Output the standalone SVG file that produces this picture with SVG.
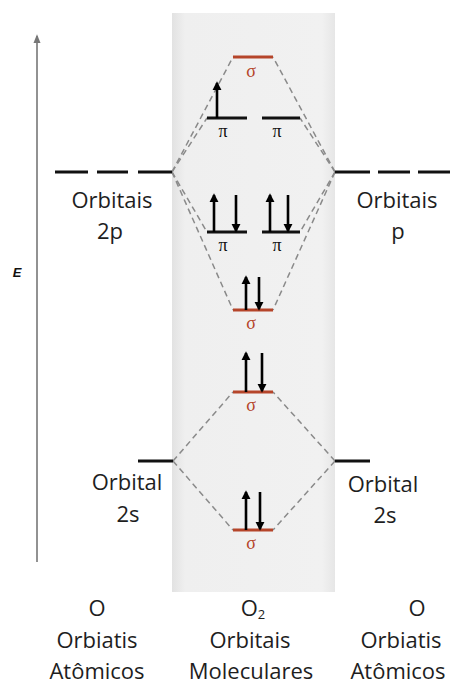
<svg xmlns="http://www.w3.org/2000/svg" width="450" height="688" viewBox="0 0 450 688">
  <defs>
    <linearGradient id="panel" x1="0" y1="0" x2="1" y2="0">
      <stop offset="0" stop-color="#e2e2e2"/>
      <stop offset="0.08" stop-color="#efefef"/>
      <stop offset="0.92" stop-color="#f1f1f1"/>
      <stop offset="1" stop-color="#e6e6e6"/>
    </linearGradient>
    <marker id="head" viewBox="0 0 10 10" refX="8" refY="5" markerWidth="3.6" markerHeight="3.6" orient="auto" markerUnits="strokeWidth">
      <path d="M0,0 L10,5 L0,10 Z" fill="#000"/>
    </marker>
    <marker id="axisHead" viewBox="0 0 10 10" refX="8" refY="5" markerWidth="5.5" markerHeight="5.5" orient="auto" markerUnits="strokeWidth">
      <path d="M0,1 L10,5 L0,9 Z" fill="#777"/>
    </marker>
  </defs>
  <style>
    .lbl { font-family: "Open Sans", "Noto Sans", sans-serif; font-size: 22px; fill: #1e1e1e; text-anchor: middle; }
    .sym { font-family: "Liberation Serif", "DejaVu Serif", serif; font-size: 18px; text-anchor: middle; }
    .sig { fill: #b5452a; }
    .pi { fill: #111; }
    .lvl { stroke: #111; stroke-width: 3; }
    .mo-s { stroke: #b5452a; stroke-width: 3; }
    .cor { stroke: #8a8a8a; stroke-width: 1.5; stroke-dasharray: 6 4; fill: none; }
    .e { stroke: #000; stroke-width: 2.6; marker-end: url(#head); }
  </style>

  <!-- molecular orbital panel -->
  <rect x="172" y="13" width="163" height="579" fill="url(#panel)"/>

  <!-- energy axis -->
  <g id="axis">
    <line x1="37" y1="562" x2="37" y2="36" stroke="#777" stroke-width="1.6" marker-end="url(#axisHead)"/>
    <text x="17" y="277" font-family="Liberation Sans, Arial, sans-serif" font-size="13" font-weight="bold" font-style="italic" text-anchor="middle" fill="#111">E</text>
  </g>

  <!-- correlation lines -->
  <g id="connectors">
    <line class="cor" x1="172" y1="172" x2="233" y2="57"/>
    <line class="cor" x1="172" y1="172" x2="207" y2="118"/>
    <line class="cor" x1="172" y1="172" x2="207" y2="232"/>
    <line class="cor" x1="172" y1="172" x2="233" y2="310"/>
    <line class="cor" x1="335" y1="172" x2="273" y2="57"/>
    <line class="cor" x1="335" y1="172" x2="300" y2="118"/>
    <line class="cor" x1="335" y1="172" x2="300" y2="232"/>
    <line class="cor" x1="335" y1="172" x2="273" y2="310"/>
    <line class="cor" x1="173" y1="461" x2="233" y2="392"/>
    <line class="cor" x1="173" y1="461" x2="233" y2="530"/>
    <line class="cor" x1="335" y1="461" x2="273" y2="392"/>
    <line class="cor" x1="335" y1="461" x2="273" y2="530"/>
  </g>

  <!-- left atom: 2p -->
  <g id="left-2p">
    <line class="lvl" x1="55" y1="172" x2="88" y2="172"/>
    <line class="lvl" x1="97" y1="172" x2="128" y2="172"/>
    <line class="lvl" x1="138" y1="172" x2="172" y2="172"/>
    <text class="lbl" x="112" y="208">Orbitais</text>
    <text class="lbl" x="110" y="239">2p</text>
  </g>

  <!-- right atom: p -->
  <g id="right-2p">
    <line class="lvl" x1="335" y1="172" x2="370" y2="172"/>
    <line class="lvl" x1="378" y1="172" x2="410" y2="172"/>
    <line class="lvl" x1="418" y1="172" x2="450" y2="172"/>
    <text class="lbl" x="397" y="208">Orbitais</text>
    <text class="lbl" x="398" y="239">p</text>
  </g>

  <!-- left atom: 2s -->
  <g id="left-2s">
    <line class="lvl" x1="138" y1="461" x2="173" y2="461"/>
    <text class="lbl" x="127" y="490">Orbital</text>
    <text class="lbl" x="128" y="522">2s</text>
  </g>

  <!-- right atom: 2s -->
  <g id="right-2s">
    <line class="lvl" x1="335" y1="461" x2="370" y2="461"/>
    <text class="lbl" x="383" y="492">Orbital</text>
    <text class="lbl" x="385" y="523">2s</text>
  </g>

  <!-- sigma* 2p -->
  <g id="sigma-star-2p">
    <line class="mo-s" x1="233" y1="57" x2="273" y2="57"/>
    <text class="sym sig" x="251" y="77">σ</text>
  </g>

  <!-- pi* 2p -->
  <g id="pi-star-a">
    <line class="lvl" x1="207" y1="118" x2="247" y2="118"/>
    <line class="e" x1="217" y1="118" x2="217" y2="83"/>
    <text class="sym pi" x="223" y="137">π</text>
  </g>
  <g id="pi-star-b">
    <line class="lvl" x1="262" y1="118" x2="300" y2="118"/>
    <text class="sym pi" x="277" y="137">π</text>
  </g>

  <!-- pi 2p -->
  <g id="pi-a">
    <line class="lvl" x1="207" y1="232" x2="247" y2="232"/>
    <line class="e" x1="214" y1="232" x2="214" y2="195"/>
    <line class="e" x1="236" y1="195" x2="236" y2="231"/>
    <text class="sym pi" x="223" y="251">π</text>
  </g>
  <g id="pi-b">
    <line class="lvl" x1="262" y1="232" x2="300" y2="232"/>
    <line class="e" x1="270" y1="232" x2="270" y2="195"/>
    <line class="e" x1="288" y1="195" x2="288" y2="231"/>
    <text class="sym pi" x="277" y="251">π</text>
  </g>

  <!-- sigma 2p -->
  <g id="sigma-2p">
    <line class="mo-s" x1="233" y1="310" x2="273" y2="310"/>
    <line class="e" x1="246" y1="310" x2="246" y2="277"/>
    <line class="e" x1="259" y1="277" x2="259" y2="309"/>
    <text class="sym sig" x="251" y="329">σ</text>
  </g>

  <!-- sigma* 2s -->
  <g id="sigma-star-2s">
    <line class="mo-s" x1="233" y1="392" x2="273" y2="392"/>
    <line class="e" x1="246" y1="392" x2="246" y2="353"/>
    <line class="e" x1="262" y1="353" x2="262" y2="391"/>
    <text class="sym sig" x="251" y="411">σ</text>
  </g>

  <!-- sigma 2s -->
  <g id="sigma-2s">
    <line class="mo-s" x1="233" y1="530" x2="273" y2="530"/>
    <line class="e" x1="246" y1="530" x2="246" y2="492"/>
    <line class="e" x1="260" y1="492" x2="260" y2="529"/>
    <text class="sym sig" x="251" y="549">σ</text>
  </g>

  <!-- column captions -->
  <g id="caption-left">
    <text class="lbl" x="97" y="616">O</text>
    <text class="lbl" x="97" y="648">Orbiatis</text>
    <text class="lbl" x="97" y="679">Atômicos</text>
  </g>
  <g id="caption-middle">
    <text class="lbl" x="253" y="616">O<tspan font-size="13" dy="3">2</tspan></text>
    <text class="lbl" x="250" y="648">Orbitais</text>
    <text class="lbl" x="251" y="679">Moleculares</text>
  </g>
  <g id="caption-right">
    <text class="lbl" x="417" y="616">O</text>
    <text class="lbl" x="401" y="648">Orbiatis</text>
    <text class="lbl" x="398" y="679">Atômicos</text>
  </g>
</svg>
